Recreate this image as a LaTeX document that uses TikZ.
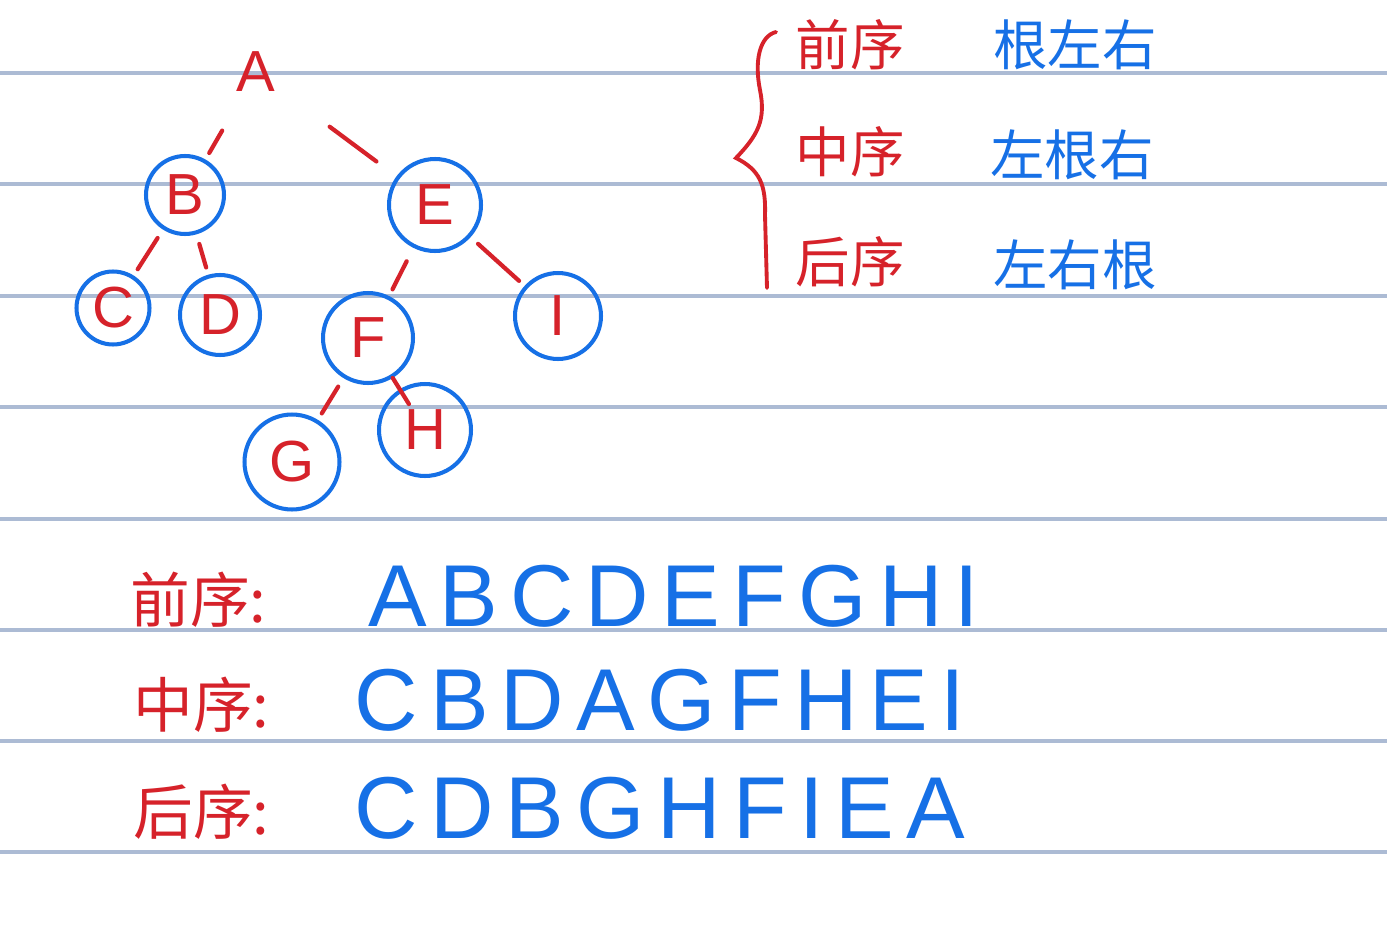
\documentclass[tikz,border=0pt]{standalone}
\usepackage{fontspec}
\setmainfont{Liberation Sans}
\newfontfamily\cjk{Noto Sans CJK SC}
\definecolor{penred}{RGB}{214,34,42}
\definecolor{penblue}{RGB}{22,112,230}
\definecolor{ruleline}{RGB}{172,187,212}

\begin{document}
\begin{tikzpicture}[x=0.02cm, y=-0.02cm,
    tnode/.style={circle, draw=penblue, line width=2.3pt, text=penred, inner sep=0pt,
      font=\fontsize{33}{33}\selectfont},
    edge/.style={penred, line width=2.4pt, line cap=round, shorten <=0.2cm, shorten >=0.15cm},
    redlabel/.style={text=penred, inner sep=0pt, font=\cjk\fontsize{31}{31}\selectfont},
    bluelabel/.style={text=penblue, inner sep=0pt, font=\cjk\fontsize{31}{31}\selectfont},
    seqlabel/.style={text=penred, inner sep=0pt, anchor=west, font=\cjk\fontsize{34}{34}\selectfont},
    seq/.style={text=penblue, inner sep=0pt, anchor=west,
      font=\addfontfeature{LetterSpace=14}\fontsize{50}{50}\selectfont}
]
\useasboundingbox[fill=white] (0,0) rectangle (1387,933);

% ruled lines
\foreach \ly in {73,184,296,407,519,630,741,852}
  \draw[ruleline, line width=2pt] (0,\ly) -- (1387,\ly);

% tree
\node[text=penred, font=\fontsize{33}{33}\selectfont] (A) at (256,72) {A};
\node[tnode, minimum size=1.56cm] (B) at (185,195) {B};
\node[tnode, minimum size=1.84cm] (E) at (435,205) {E};
\node[tnode, minimum size=1.46cm] (C) at (113,308) {C};
\node[tnode, minimum size=1.6cm] (D) at (220,315) {D};
\node[tnode, minimum size=1.8cm] (F) at (368,338) {F};
\node[tnode, minimum size=1.72cm] (I) at (558,316) {I};
\node[tnode, minimum size=1.9cm] (G) at (292,462) {G};
\node[tnode, minimum size=1.84cm] (H) at (425,430) {H};

\draw[edge, shorten <=0.75cm] (A) -- (B);
\draw[edge, shorten <=1.2cm, shorten >=0.5cm] (A) -- (E);
\draw[edge] (B) -- (C);
\draw[edge] (B) -- (D);
\draw[edge, shorten <=0.3cm] (E) -- (F);
\draw[edge] (E) -- (I);
\draw[edge] (F) -- (G);
\draw[edge, shorten <=0cm, shorten >=-0.35cm] (F) -- (H);

% brace
\draw[penred, line width=2.2pt, line cap=round]
  (776,32) .. controls (760,36) and (754,60) .. (760,90)
  .. controls (766,120) and (758,135) .. (736,158)
  .. controls (760,170) and (766,185) .. (765,215)
  -- (767,288);

% orders
\node[redlabel] (pre) at (850,45) {前序};
\node[redlabel] (mid) at (850,152) {中序};
\node[redlabel] (post) at (850,262) {后序};
\node[bluelabel] (preRule) at (1075,45) {根左右};
\node[bluelabel] (midRule) at (1072,155) {左根右};
\node[bluelabel] (postRule) at (1075,265) {左右根};

% sequences
\node[seqlabel] (preSeq) at (130,600) {前序:};
\node[seqlabel] (midSeq) at (133,705) {中序:};
\node[seqlabel] (postSeq) at (133,812) {后序:};
\node[seq] (preList) at (368,596) {ABCDEFGHI};
\node[seq] (midList) at (354,700) {CBDAGFHEI};
\node[seq] (postList) at (354,808) {CDBGHFIEA};
\end{tikzpicture}
\end{document}
